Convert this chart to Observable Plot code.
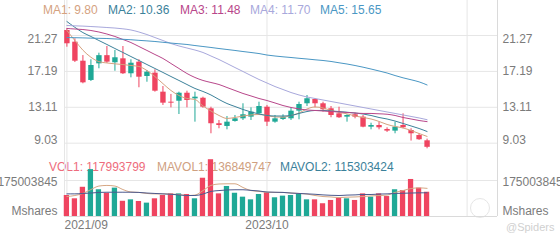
<!DOCTYPE html>
<html><head><meta charset="utf-8">
<script src="https://cdn.jsdelivr.net/npm/d3@7"></script>
<script src="https://cdn.jsdelivr.net/npm/@observablehq/plot@0.6"></script>
<style>
body{margin:0;background:#fff;font-family:"Liberation Sans",Arial,sans-serif;}
#wrap{position:relative;width:560px;height:240px;overflow:hidden;background:#fff;}
#price,#vol{position:absolute;left:0;z-index:2;}
#price{top:0}
#vol{top:155px}
.leg{position:absolute;font-size:12px;white-space:nowrap;line-height:14px;z-index:1;}
.leg.top{z-index:3;}
#wm{position:absolute;left:470px;top:198px;width:18px;height:18px;border:1.5px solid #e6e6e6;border-radius:50%;z-index:1;}
#sp{position:absolute;left:506px;top:221px;font-size:11px;color:#d0d0d0;z-index:1;}
</style></head><body>
<div id="wrap">
  <div id="price"></div>
  <div id="vol"></div>
  <div id="wm"></div>
  <div id="sp">@Spiders</div>
</div>
<script>
// ---------- data ----------
const months = ["2021/09","2021/10","2021/11","2021/12",
  "2022/01","2022/02","2022/03","2022/04","2022/05","2022/06","2022/07","2022/08","2022/09","2022/10","2022/11","2022/12",
  "2023/01","2023/02","2023/03","2023/04","2023/05","2023/06","2023/07","2023/08","2023/09","2023/10","2023/11","2023/12",
  "2024/01","2024/02","2024/03","2024/04","2024/05","2024/06","2024/07","2024/08","2024/09","2024/10","2024/11","2024/12",
  "2025/01","2025/02","2025/03","2025/04","2025/05","2025/06"];
const open  = [21.84,20.51,18.35,16.16,18.05,18.98,18.17,18.62,16.92,18.24,16.61,16.99,14.83,13.69,13.80,14.71,14.07,14.14,12.94,11.24,10.93,11.50,11.80,11.99,12.37,13.12,11.42,11.72,11.80,12.67,13.51,14.00,13.51,12.94,12.37,11.99,12.26,11.99,10.85,11.04,10.59,10.40,11.04,10.47,9.90,9.30];
const close = [20.33,18.35,15.89,17.86,18.98,18.24,18.74,16.92,18.12,16.53,17.10,14.94,13.58,13.58,14.71,13.88,14.26,13.12,11.24,11.04,11.42,11.80,12.26,12.56,13.20,11.42,11.80,11.99,12.67,13.43,14.08,13.51,12.83,12.18,11.92,12.18,11.99,10.85,11.04,10.78,10.40,10.85,10.78,10.10,9.42,8.56];
const high  = [22.03,20.90,18.99,18.51,19.26,20.02,19.57,20.02,18.51,18.51,17.29,17.37,15.47,14.57,14.83,14.94,14.83,14.26,13.12,11.61,12.06,12.18,13.51,13.05,13.69,13.32,12.18,12.26,13.05,13.69,14.45,14.08,13.69,13.20,13.12,12.26,12.44,12.18,11.30,11.42,10.78,11.42,12.37,10.67,10.10,9.49];
const low   = [19.94,18.20,15.78,16.04,17.49,18.10,17.21,16.84,16.46,15.33,15.96,14.83,13.32,13.05,12.29,13.05,11.42,13.00,10.10,10.67,10.55,11.42,11.61,11.61,12.26,10.93,11.30,11.61,11.61,11.69,13.20,13.05,12.56,11.92,11.84,11.42,11.80,10.78,10.55,10.55,10.25,10.10,10.67,9.27,9.35,8.39];
const ma1 = [21.84,20.70,19.60,18.80,18.30,18.15,18.05,17.97,17.86,17.75,17.29,16.60,15.80,15.02,14.45,14.11,14.00,13.26,12.69,12.18,11.84,11.95,12.12,12.24,12.29,12.18,12.01,11.99,12.18,12.46,12.92,13.15,13.03,12.75,12.52,12.37,12.12,11.95,11.78,11.50,11.16,10.93,10.76,10.47,10.13,9.80];
const ma2 = [22.86,22.20,21.60,21.16,20.70,20.25,19.79,19.34,18.88,18.43,17.97,17.52,17.07,16.61,16.16,15.70,15.25,14.91,14.51,14.00,13.54,13.20,12.86,12.58,12.35,12.18,12.12,12.12,12.18,12.41,12.63,12.75,12.75,12.69,12.63,12.55,12.46,12.35,12.18,11.95,11.78,11.55,11.27,10.99,10.70,10.36];
const ma3 = [22.07,22.01,21.95,21.84,21.67,21.44,21.16,20.82,20.47,20.02,19.57,19.11,18.66,18.09,17.52,16.95,16.50,16.16,15.93,15.70,15.36,15.02,14.68,14.40,14.11,13.88,13.60,13.31,13.09,12.92,12.80,12.75,12.69,12.63,12.58,12.52,12.46,12.41,12.41,12.37,12.32,12.18,11.95,11.78,11.61,11.48];
const ma4 = [22.41,22.37,22.34,22.29,22.24,22.18,22.12,22.03,21.90,21.67,21.38,21.04,20.70,20.36,20.08,19.85,19.62,19.34,18.94,18.54,18.09,17.63,17.18,16.72,16.27,15.87,15.47,15.13,14.79,14.51,14.28,14.11,13.94,13.77,13.60,13.43,13.26,13.09,12.92,12.75,12.58,12.41,12.24,12.07,11.90,11.70];
const ma5 = [21.04,21.02,21.00,20.97,20.95,20.93,20.88,20.84,20.79,20.72,20.66,20.59,20.50,20.41,20.33,20.25,20.13,20.02,19.91,19.79,19.68,19.57,19.45,19.34,19.22,19.05,18.94,18.85,18.77,18.68,18.60,18.51,18.43,18.32,18.17,18.03,17.86,17.67,17.46,17.24,17.01,16.72,16.46,16.24,16.00,15.65];
// volume, millions of shares
const vol = [102,86,142,228,130,113,138,74,81,73,65,86,102,110,110,107,86,186,276,110,146,113,94,81,107,115,91,99,102,110,81,81,62,78,89,86,78,110,94,110,97,130,126,180,138,117.993799];
const mavol1 = [97,102,112,131,148,151,148,131,119,117,112,110,110,109,107,102,104,126,151,158,159,159,141,126,122,118,117,117,114,112,109,102,97,95,92,94,95,97,100,102,104,117,126,136,139,136.849747];
const mavol2 = [110,110,112,114,117,118,118,118,118,117,114,112,110,108,105,102,102,109,122,126,129,130,130,127,124,119,118,117,114,112,110,108,105,103,102,104,105,107,107,109,110,112,113,114,115,115.303424];
const priceTicks = [9.03, 13.11, 17.19, 21.27];
const volTicks = [175.003845];
const volTickLabels = ["175003845"];
const unitLabel = "Mshares";
const gridIdx = [0, 25, 50];
const gridLabels = ["2021/09", "2023/10", ""];
const maNames = ["MA1","MA2","MA3","MA4","MA5"];
const maLast = ["9.80","10.36","11.48","11.70","15.65"];
const maColors = ["#d5a27f","#3b819a","#b8468a","#a8a8dc","#4a97c4"];
const volNames = ["VOL1","MAVOL1","MAVOL2"];
const volLast = ["117993799","136849747","115303424"];
const volColors = ["#ee6c7c","#cfa07f","#3b819a"];
const mavolLineColors = ["#d6a784","#4c5a8e"];

const UP = "#1fa896", DOWN = "#ef4460";
const GRID = "#e6e6e6", AXIS = "#dadada", TXT = "#7b7b7b";

// ---------- build ----------
const candles = months.map((m, i) => ({i, m, o: open[i], c: close[i], h: high[i], l: low[i],
  v: vol[i], col: close[i] >= open[i] ? UP : DOWN}));
const xDomain = [-0.3, 53.8];
const mas = [ma1, ma2, ma3, ma4, ma5];
const font = {fontFamily: "'Liberation Sans', Arial, sans-serif", fontSize: "12px", background: "transparent", overflow: "visible"};

const priceMarks = [
  Plot.ruleY(priceTicks, {stroke: GRID}),
  Plot.ruleX(gridIdx, {stroke: GRID}),
  Plot.ruleX([xDomain[0]], {stroke: GRID}),
  Plot.ruleX([xDomain[1]], {stroke: AXIS}),
  Plot.ruleX(candles, {x: "i", y1: "l", y2: "h", stroke: "col", strokeWidth: 1}),
  Plot.ruleX(candles, {x: "i", y1: "o", y2: "c", stroke: "col", strokeWidth: 5.4}),
  ...mas.map((arr, k) => Plot.line(arr.map((v, i) => ({i, v})), {x: "i", y: "v", stroke: maColors[k], strokeWidth: 1, curve: "monotone-x"})),
  Plot.text(priceTicks.slice(-1), {y: d => d, text: d => d.toFixed(2), frameAnchor: "left", textAnchor: "end", dx: -7, dy: 3.5, fill: TXT}),
  Plot.text(priceTicks.slice(1, -1), {y: d => d, text: d => d.toFixed(2), frameAnchor: "left", textAnchor: "end", dx: -7, fill: TXT}),
  Plot.text(priceTicks.slice(0, 1), {y: d => d, text: d => d.toFixed(2), frameAnchor: "left", textAnchor: "end", dx: -7, dy: -3.5, fill: TXT}),
  Plot.text(priceTicks.slice(-1), {y: d => d, text: d => d.toFixed(2), frameAnchor: "right", textAnchor: "start", dx: 5, dy: 3.5, fill: TXT}),
  Plot.text(priceTicks.slice(1, -1), {y: d => d, text: d => d.toFixed(2), frameAnchor: "right", textAnchor: "start", dx: 5, fill: TXT}),
  Plot.text(priceTicks.slice(0, 1), {y: d => d, text: d => d.toFixed(2), frameAnchor: "right", textAnchor: "start", dx: 5, dy: -3.5, fill: TXT})
];
const pricePlot = Plot.plot({
  width: 560, height: 155, marginLeft: 64, marginRight: 63, marginTop: 0, marginBottom: 0,
  x: {domain: xDomain, axis: null},
  y: {domain: [7.63, 25.25], axis: null},
  color: {type: "identity"},
  style: font,
  marks: priceMarks
});
document.getElementById("price").appendChild(pricePlot);

const volPlot = Plot.plot({
  width: 560, height: 85, marginLeft: 64, marginRight: 63, marginTop: 0, marginBottom: 24,
  x: {domain: xDomain, axis: null},
  y: {domain: [0, 296.5], axis: null},
  color: {type: "identity"},
  style: font,
  marks: [
    Plot.ruleY(volTicks, {stroke: GRID}),
    Plot.ruleX(gridIdx, {stroke: GRID}),
    Plot.ruleX([xDomain[0]], {stroke: GRID}),
    Plot.ruleX([xDomain[1]], {stroke: AXIS}),
    Plot.rect(candles, {x1: d => d.i - 0.33, x2: d => d.i + 0.33, y1: 0, y2: "v", fill: "col"}),
    Plot.line(mavol1.map((v, i) => ({i, v})), {x: "i", y: "v", stroke: mavolLineColors[0], strokeWidth: 1, curve: "monotone-x"}),
    Plot.line(mavol2.map((v, i) => ({i, v})), {x: "i", y: "v", stroke: mavolLineColors[1], strokeWidth: 1, curve: "monotone-x"}),
    Plot.ruleY([0], {stroke: AXIS}),
    Plot.text(volTicks, {y: d => d, text: (d, i) => volTickLabels[i], frameAnchor: "left", textAnchor: "end", dx: -7, dy: 2, fill: TXT}),
    Plot.text(volTicks, {y: d => d, text: (d, i) => volTickLabels[i], frameAnchor: "right", textAnchor: "start", dx: 5, dy: 2, fill: TXT}),
    Plot.text([0], {y: d => d, text: () => unitLabel, frameAnchor: "left", textAnchor: "end", dx: -7, dy: -5, fill: TXT}),
    Plot.text([0], {y: d => d, text: () => unitLabel, frameAnchor: "right", textAnchor: "start", dx: 5, dy: -5, fill: TXT}),
    Plot.text(gridIdx.slice(0, 1), {x: d => d, text: () => gridLabels[0], frameAnchor: "bottom", textAnchor: "start", dx: -2.4, dy: 12, fill: TXT}),
    Plot.text(gridIdx.slice(1), {x: d => d, text: (d, i) => gridLabels[i + 1], frameAnchor: "bottom", textAnchor: "middle", dy: 12, fill: TXT})
  ]
});
document.getElementById("vol").appendChild(volPlot);

// legends
const wrap = document.getElementById("wrap");
const maX = [43, 108, 180, 250, 320];
maNames.forEach((n, k) => {
  const d = document.createElement("div");
  d.className = "leg top";
  d.style.left = maX[k] + "px"; d.style.top = "3px"; d.style.color = maColors[k];
  d.textContent = n + ": " + maLast[k];
  wrap.appendChild(d);
});
const volX = [49, 157, 280];
volNames.forEach((n, k) => {
  const d = document.createElement("div");
  d.className = "leg";
  d.style.left = volX[k] + "px"; d.style.top = "160px"; d.style.color = volColors[k];
  d.textContent = n + ": " + volLast[k];
  wrap.appendChild(d);
});
</script>
</body></html>
